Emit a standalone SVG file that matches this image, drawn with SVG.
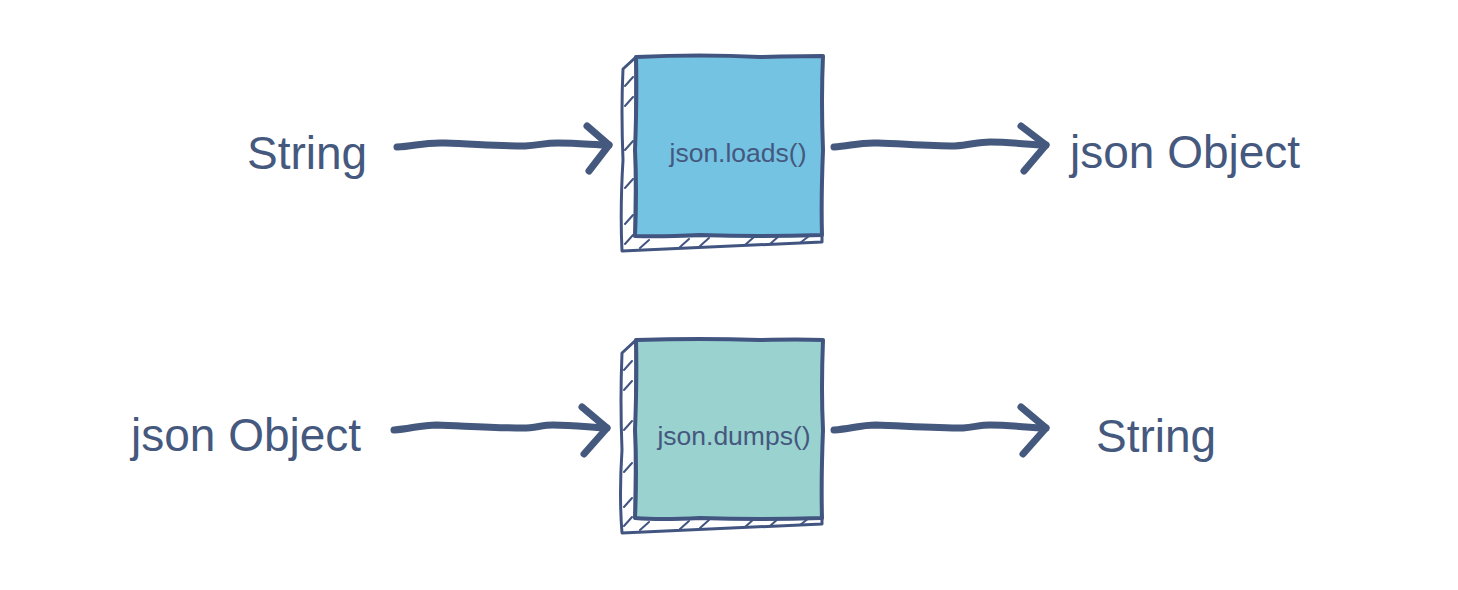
<svg xmlns="http://www.w3.org/2000/svg" width="1458" height="590" viewBox="0 0 1458 590">
<style>
.big{font-family:"Liberation Sans",Arial,sans-serif;font-size:46px;fill:#45587e}
.small{font-family:"Liberation Sans",Arial,sans-serif;font-size:26.5px;fill:#45587e}
.face{stroke:#415580;stroke-width:4;stroke-linejoin:round}
.side{fill:#ffffff;stroke:#415580;stroke-width:3;stroke-linejoin:round}
.hatch{stroke:#415580;stroke-width:2;stroke-linecap:round;fill:none}
.arrow{fill:none;stroke:#45587e;stroke-width:7;stroke-linecap:round;stroke-linejoin:round}
</style>
<rect width="1458" height="590" fill="#ffffff"/>
<g id="label-string-in"><text class="big" x="247" y="169">String</text></g>
<g id="label-jsonobject-out"><text class="big" x="1070" y="168">json Object</text></g>
<g id="label-jsonobject-in"><text class="big" x="131" y="451">json Object</text></g>
<g id="label-string-out"><text class="big" x="1096" y="452">String</text></g>

<g id="node-loads">
<path class="side" d="M636,57 L623,69 Q621,110 623,160 Q620,210 622,251 Q720,247 822,242 L822,235 L635,236 Z"/>
<path class="hatch" d="M625,86 L633,77 M625,106 L633,97 M625,150 L633,141 M625,188 L633,179 M625,224 L633,215 M625,244 L633,235 M640,248 L649,240 M680,247 L689,239 M700,246 L709,238 M745,245 L754,237 M770,244 L779,236 M800,243 L809,236"/>
<path class="face" fill="#74c3e2" d="M636,57 Q700,54 760,57 Q800,56 823,56 Q821,100 823,150 Q821,200 822,235 Q760,237 700,235 Q660,237 635,236 Q637,190 635,150 Q637,100 636,57 Z"/>
<text class="small" x="738" y="162" text-anchor="middle">json.loads()</text>
</g>

<g id="node-dumps">
<path class="side" d="M636,340 L622,353 Q620,400 622,450 Q619,495 622,533 Q720,529 822,524 L822,518 L635,518 Z"/>
<path class="hatch" d="M624,370 L632,361 M624,390 L632,381 M624,430 L632,421 M624,472 L632,463 M624,507 L632,498 M624,526 L632,517 M640,530 L649,522 M680,529 L689,521 M700,528 L709,520 M745,527 L754,519 M770,526 L779,518 M800,525 L809,518"/>
<path class="face" fill="#99d2cf" d="M636,340 Q700,338 760,340 Q800,339 823,340 Q821,390 823,430 Q821,480 822,518 Q760,520 700,518 Q660,520 635,518 Q637,470 635,430 Q637,380 636,340 Z"/>
<text class="small" x="734" y="445" text-anchor="middle">json.dumps()</text>
</g>

<g id="connectors">
<path class="arrow" d="M397,147 C415,146 425,142 445,143 C475,144 500,146 525,146 C540,145 545,143 558,143 C580,143 595,145 609,145"/>
<path class="arrow" d="M587,126 L609,145 L589,171"/>
<path class="arrow" d="M834,147 C850,146 860,142 878,143 C905,144 930,146 955,146 C970,145 978,142 990,142 C1012,142 1030,145 1046,145"/>
<path class="arrow" d="M1021,126 L1046,145 L1024,171"/>
<path class="arrow" d="M394,430 C410,429 420,425 437,425 C465,426 495,428 523,428 C535,428 542,425 553,425 C575,425 595,428 607,428"/>
<path class="arrow" d="M582,407 L607,428 L584,454"/>
<path class="arrow" d="M834,430 C850,429 860,425 876,425 C905,426 935,428 963,428 C975,427 980,425 990,425 C1012,425 1030,428 1046,428"/>
<path class="arrow" d="M1021,407 L1046,428 L1023,454"/>
</g>
</svg>
